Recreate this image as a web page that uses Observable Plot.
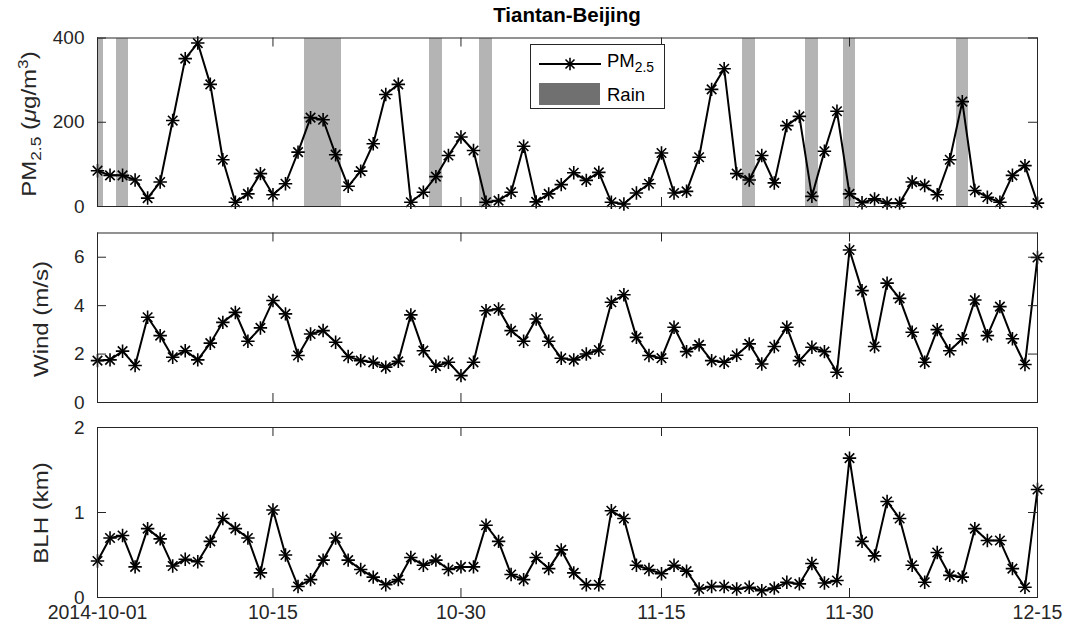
<!DOCTYPE html>
<html><head><meta charset="utf-8">
<script src="https://cdn.jsdelivr.net/npm/d3@7"></script>
<script src="https://cdn.jsdelivr.net/npm/@observablehq/plot@0.6"></script>
<style>
body{margin:0;background:#fff;font-family:"Liberation Sans",Arial,sans-serif;}
#wrap{position:relative;width:1075px;height:627px;overflow:hidden;background:#fff;}
.panel{position:absolute;left:0;}
.ylab{position:absolute;transform:translate(-50%,-50%) rotate(-90deg) scaleX(1.2);white-space:nowrap;font-size:20px;color:#262626;line-height:1;}
.ylab sub,.ylab sup{font-size:0.72em;line-height:0;}
#title{position:absolute;left:567px;top:3px;transform:translateX(-50%);font-weight:bold;font-size:20.5px;color:#000;white-space:nowrap;}
#legend{position:absolute;left:530px;top:44px;width:135px;height:65px;border:1px solid #262626;background:#fff;box-sizing:border-box;}
#legend .t{position:absolute;font-size:18.5px;line-height:19px;color:#000;white-space:nowrap;}
#legend sub{font-size:0.75em;line-height:0;}
</style></head>
<body><div id="wrap"></div>
<script>
// ---- data ----
const startDate = "2014-10-01";
const pm25 = [85,74,74,63,20,58,204,351,388,290,111,10,30,78,28,54,129,211,206,123,48,84,149,266,290,10,34,71,121,165,133,10,14,34,143,11,30,52,80,62,81,10,6,32,54,127,32,36,117,278,327,78,63,121,56,192,214,24,131,226,30,9,18,8,8,58,50,28,111,249,38,22,10,74,97,8];
const wind = [1.73,1.76,2.12,1.53,3.52,2.76,1.87,2.14,1.76,2.45,3.31,3.72,2.53,3.08,4.21,3.66,1.94,2.83,2.97,2.49,1.90,1.73,1.66,1.46,1.70,3.62,2.14,1.50,1.66,1.11,1.66,3.79,3.86,2.97,2.53,3.45,2.53,1.83,1.76,2.00,2.17,4.14,4.45,2.69,1.94,1.83,3.11,2.10,2.38,1.73,1.66,1.95,2.42,1.59,2.31,3.11,1.73,2.28,2.10,1.25,6.30,4.62,2.31,4.93,4.30,2.90,1.66,3.01,2.14,2.63,4.23,2.76,3.96,2.63,1.57,5.99];
const blh = [0.43,0.70,0.73,0.36,0.81,0.69,0.37,0.45,0.42,0.66,0.93,0.81,0.70,0.29,1.03,0.50,0.13,0.21,0.44,0.70,0.44,0.33,0.24,0.15,0.21,0.47,0.38,0.44,0.33,0.36,0.36,0.85,0.66,0.27,0.21,0.47,0.34,0.56,0.29,0.15,0.15,1.02,0.93,0.38,0.33,0.28,0.38,0.31,0.10,0.13,0.13,0.10,0.12,0.08,0.11,0.18,0.16,0.40,0.17,0.20,1.64,0.66,0.49,1.13,0.93,0.38,0.18,0.53,0.26,0.24,0.81,0.67,0.67,0.34,0.12,1.27];
const rainDays = [0,2,17,18,19,27,31,52,57,60,69]; // day offsets from start
const xTickDates = ["2014-10-01","2014-10-15","2014-10-30","2014-11-15","2014-11-30","2014-12-15"];
const xTickLabels = ["2014-10-01","10-15","10-30","11-15","11-30","12-15"];
const pmTicks = [0,200,400];
const windTicks = [0,2,4,6];
const blhTicks = [0,1,2];

// ---- build ----
const DAY = 864e5;
const t0 = new Date(startDate + "T00:00:00Z");
const tickDates = xTickDates.map(s => new Date(s + "T00:00:00Z"));
const labelOf = new Map(tickDates.map((d, i) => [+d, xTickLabels[i]]));
const xDomain = [tickDates[0], tickDates[tickDates.length - 1]];
const INK = "#262626";
const TK = 9; // inward tick length (px)
const W = 1075, ML = 97, MR = 38;
const wrap = document.getElementById("wrap");

function panel({values, yDomain, yTicks, top, height, marginTop, marginBottom, rain = false, xLabels = false}) {
  const data = values.map((v, i) => ({date: new Date(+t0 + i * DAY), v}));
  const pw = W - ML - MR, ph = height - marginTop - marginBottom;
  const marks = [];
  if (rain) {
    marks.push(Plot.rect(rainDays, {
      x1: d => new Date(+t0 + (d - 0.5) * DAY),
      x2: d => new Date(+t0 + (d + 0.5) * DAY),
      fill: "#b4b4b4", clip: true, shapeRendering: "crispEdges"
    }));
  }
  marks.push(
    Plot.line(data, {x: "date", y: "v", stroke: "black", strokeWidth: 2}),
    Plot.dot(data, {x: "date", y: "v", symbol: "plus", r: 4.4, stroke: "black", strokeWidth: 1.6}),
    Plot.dot(data, {x: "date", y: "v", symbol: "times", r: 4.4, stroke: "black", strokeWidth: 1.6}),
    Plot.frame({stroke: INK, strokeWidth: 1}),
    // inward ticks on all four sides
    Plot.tickY(yTicks, {y: d => d, insetRight: pw - TK, stroke: INK}),
    Plot.tickY(yTicks, {y: d => d, insetLeft: pw - TK, stroke: INK}),
    Plot.tickX(tickDates, {x: d => d, insetTop: ph - TK, stroke: INK}),
    Plot.tickX(tickDates, {x: d => d, insetBottom: ph - TK, stroke: INK}),
    // y tick labels
    Plot.axisY(yTicks, {anchor: "left", tickSize: 0, tickPadding: 13, label: null, fontSize: 19, fill: INK, tickFormat: d => String(d)})
  );
  if (xLabels) {
    marks.push(Plot.axisX(tickDates, {anchor: "bottom", tickSize: 0, tickPadding: 8, label: null, fontSize: 19.5, fill: INK,
      tickFormat: d => labelOf.get(+d)}));
  }
  const svg = Plot.plot({
    width: W, height,
    marginLeft: ML, marginRight: MR, marginTop, marginBottom,
    x: xLabels ? {type: "utc", domain: xDomain} : {type: "utc", domain: xDomain, axis: null},
    y: {domain: yDomain},
    style: {overflow: "visible", background: "transparent", fontFamily: "'Liberation Sans', Arial, sans-serif", color: INK},
    marks
  });
  svg.classList.add("panel");
  svg.style.top = top + "px";
  wrap.appendChild(svg);
}

panel({values: pm25, yDomain: [0, 400], yTicks: pmTicks, top: 0, height: 210, marginTop: 37.5, marginBottom: 4, rain: true});
panel({values: wind, yDomain: [0, 7], yTicks: windTicks, top: 210, height: 194, marginTop: 22.5, marginBottom: 2});
panel({values: blh, yDomain: [0, 2], yTicks: blhTicks, top: 404, height: 223, marginTop: 23, marginBottom: 30, xLabels: true});

function addHTML(html) { const d = document.createElement("div"); d.innerHTML = html; while (d.firstChild) wrap.appendChild(d.firstChild); }

addHTML(`<div id="title">Tiantan-Beijing</div>`);
addHTML(`<div class="ylab" style="left:29px;top:124px">PM<sub>2.5</sub> (<i>μ</i>g/m<sup>3</sup>)</div>`);
addHTML(`<div class="ylab" style="left:41px;top:319px">Wind (m/s)</div>`);
addHTML(`<div class="ylab" style="left:41px;top:513px">BLH (km)</div>`);
addHTML(`<div id="legend">
  <svg style="position:absolute;left:8px;top:10px" width="62" height="18">
    <line x1="0" y1="9" x2="62" y2="9" stroke="black" stroke-width="2"/>
    <path d="M31,2.7V15.3M24.7,9H37.3M26.5,4.5L35.5,13.5M26.5,13.5L35.5,4.5" stroke="black" stroke-width="1.6"/>
  </svg>
  <span class="t" style="left:76px;top:6px">PM<sub>2.5</sub></span>
  <div style="position:absolute;left:8px;top:38px;width:61px;height:22px;background:#707070"></div>
  <span class="t" style="left:76px;top:40px">Rain</span>
</div>`);
</script>
</body></html>
